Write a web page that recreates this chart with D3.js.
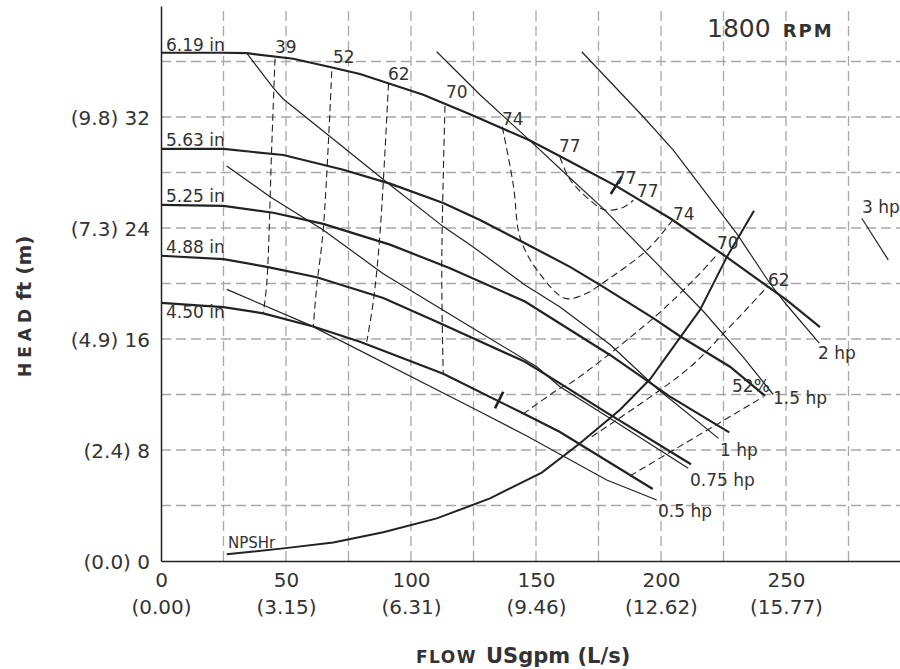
<!DOCTYPE html>
<html>
<head>
<meta charset="utf-8">
<script src="https://cdn.jsdelivr.net/npm/d3@7"></script>
<style>
  body { margin: 0; background: #fff; }
  svg text { font-family: "DejaVu Sans", sans-serif; fill: #333; }
  .axis text { font-size: 20px; }
  .note { font-size: 17px; }
</style>
</head>
<body>
<svg id="chart" width="900" height="669"></svg>
<script>
// axis ticks
const flowTicks = [0, 50, 100, 150, 200, 250];
const flowLps = ["(0.00)", "(3.15)", "(6.31)", "(9.46)", "(12.62)", "(15.77)"];
const headTicks = [0, 8, 16, 24, 32];
const headM = ["(0.0)", "(2.4)", "(4.9)", "(7.3)", "(9.8)"];

// impeller curves [gpm, ft]
const impellerNames = ["6.19 in", "5.63 in", "5.25 in", "4.88 in", "4.50 in"];
const imp619 = [[0,36.63],[25,36.63],[34.3,36.6],[52.9,36.2],[67.6,35.6],[79.6,35.1],[104.9,33.6],[123.6,32.2],[147.6,30.3],[163.6,28.8],[182.3,27.0],[203.6,24.7],[226.3,21.9],[250.3,18.8],[263.6,16.85]];
const imp563 = [[0,29.7],[25,29.7],[48.9,29.26],[72.9,28.2],[91.6,27.2],[112.9,25.8],[127.6,24.58],[145.6,22.9],[163.6,21.2],[175.6,19.9],[196.9,17.5],[207.6,16.2],[227.6,14.0],[241.6,11.9]];
const imp525 = [[0,25.66],[25,25.6],[44.9,25.1],[64.9,24.3],[91.6,22.8],[115.6,21.1],[145.6,18.7],[179.6,14.85],[203.6,11.85],[227.3,9.27]];
const imp488 = [[0,22.0],[25,21.75],[42.3,21.2],[62.3,20.45],[88.9,18.95],[110.3,17.25],[145.6,14.36],[159.6,12.8],[177.3,10.8],[212,6.97]];
const imp450 = [[0,18.6],[25,18.3],[40.9,17.85],[60.9,16.9],[79.6,15.8],[112.9,13.5],[145.6,10.57],[159.6,9.3],[196.7,5.19]];
const impellers = [imp619, imp563, imp525, imp488, imp450];

// NPSHr curve
const npshr = [[26.3,0.48],[48.9,0.91],[68.9,1.34],[88.9,2.07],[110.3,3.07],[131.6,4.51],[152.3,6.37],[167.6,8.48],[183.6,10.9],[195.6,13.1],[207.6,16.1],[215.6,18.1],[226.3,21.9],[237.2,25.25]];

// power lines
const hpNames = ["0.5 hp", "0.75 hp", "1 hp", "1.5 hp", "2 hp", "3 hp"];
const hp05 = [[26.3,19.58],[59.6,17.0],[127.6,10.76],[145.6,9.08],[178.3,5.84],[198.3,4.4]];
const hp075 = [[26.3,28.47],[43.6,26.26],[64.9,23.86],[88.9,20.7],[106.3,18.8],[123.6,16.9],[150.3,14.0],[159.6,12.56],[176.9,10.6],[210.9,6.68]];
const hp1 = [[34.3,36.6],[44.9,34.1],[48.9,33.3],[67.6,30.6],[90.3,27.3],[112.9,24.1],[123.6,22.8],[145.6,19.9],[159.6,18.3],[179.6,15.6],[198.3,12.45],[223,8.84]];
const hp15 = [[110.3,36.7],[127.6,33.6],[147.6,30.3],[163.6,27.6],[176.9,25.4],[196.9,21.7],[216.9,18.0],[232.9,14.7],[244.9,12.0]];
const hp2 = [[168.3,36.7],[193,32.0],[205,29.6],[230.3,23.6],[243.6,20.0],[250.3,18.45],[263.3,15.7]];
const hp3 = [[280.3,24.7],[290.9,21.7]];
const hpLines = [hp05, hp075, hp1, hp15, hp2, hp3];

// efficiency (%) iso lines
const effNames = ["39", "52", "62", "70", "74", "77", "77", "77", "74", "70", "62", "52%"];
const eff39 = [[45.6,36.2],[44.3,29.9],[42.3,20.0],[40.9,17.85]];
const eff52a = [[68.3,35.3],[64.9,23.9],[62.3,19.8],[60.9,16.9]];
const eff62a = [[91,34.4],[87.6,23.6],[85,18.8],[82.3,15.8]];
const eff70a = [[113.6,32.8],[112.3,21.2],[112.9,13.5]];
const eff74 = [[136.5,31.3],[141,27.0],[142.9,23.85],[145,22.65],[150.3,21.0],[161.6,18.93],[170.3,19.3],[175.6,19.9],[194.3,22.4],[204.3,24.5]];
const eff77 = [[159.6,29.1],[163.6,27.5],[172.3,25.9],[177.6,25.3],[185,25.5],[188.9,26.0]];
const eff70b = [[144.9,10.6],[159.6,12.45],[163.6,12.8],[196.9,17.5],[213,20.25],[222.3,22.05]];
const eff62b = [[172.3,8.96],[210.3,13.77],[225,16.4],[242.7,19.8]];
const eff52b = [[187.6,6.13],[241,11.84]];
const effLines = [eff39, eff52a, eff62a, eff70a, eff74, eff77, eff70b, eff62b, eff52b];

// best efficiency point marks
const bepMarks = [[[179.9,26.45],[184.3,27.7]], [[133.6,11.0],[136.9,12.2]]];

// label anchors (gpm, ft)
const impLabelAt = [[2,36.76],[2,29.9],[2,25.87],[2,22.2],[2,17.5]];
const hpLabelAt = [[198.8,3.17],[211.6,5.4],[223.6,7.57],[244.8,11.3],[262.8,14.56],[280.4,25.08]];
const effLabelAt = [[45.6,36.6],[68.8,35.9],[90.8,34.7],[114,33.4],[136.4,31.4],[159.2,29.5],[181.6,27.2],[190.4,26.2],[204.8,24.6],[222.4,22.5],[242.8,19.8],[228.4,12.2]];
const npshLabelAt = [26.8, 0.94];

const svg = d3.select("#chart");
const x = d3.scaleLinear().domain([0, 300]).range([161, 911]);
const y = d3.scaleLinear().domain([0, 40]).range([561, 6]);
const ink = "#222";

svg.append("defs").append("clipPath").attr("id", "plot")
  .append("rect").attr("x", x(0)).attr("y", 0).attr("width", 900 - x(0)).attr("height", y(0));

// grid
const grid = svg.append("g").attr("stroke", "#a8a8a8").attr("stroke-width", 1.3).attr("stroke-dasharray", "10,5");
grid.selectAll(".gx").data(d3.range(25, 300, 25)).join("line")
  .attr("x1", d => x(d)).attr("x2", d => x(d)).attr("y1", y(0)).attr("y2", y(40));
grid.selectAll(".gy").data(d3.range(4, 40, 4)).join("line")
  .attr("x1", x(0)).attr("x2", 900).attr("y1", d => y(d)).attr("y2", d => y(d));

const line = d3.line().x(d => x(d[0])).y(d => y(d[1]));
const smooth = d3.line().x(d => x(d[0])).y(d => y(d[1])).curve(d3.curveCatmullRom.alpha(0.5));
const plot = svg.append("g").attr("clip-path", "url(#plot)").attr("fill", "none");

plot.selectAll(".eff").data(effLines).join("path")
  .attr("d", smooth).attr("stroke", ink).attr("stroke-width", 1.1).attr("stroke-dasharray", "7,4");

plot.selectAll(".hp").data(hpLines).join("path")
  .attr("d", line).attr("stroke", ink).attr("stroke-width", 1.2);

plot.selectAll(".imp").data(impellers).join("path")
  .attr("d", line).attr("stroke", ink).attr("stroke-width", 2.2);

plot.append("path").attr("d", line(npshr)).attr("stroke", ink).attr("stroke-width", 2);

plot.selectAll(".bep").data(bepMarks).join("path")
  .attr("d", line).attr("stroke", ink).attr("stroke-width", 2.6);

// axes
const gx = svg.append("g").attr("class", "axis").attr("transform", `translate(0,${y(0)})`)
  .call(d3.axisBottom(x).tickValues(flowTicks).tickSize(0).tickPadding(0));
gx.selectAll(".tick text").attr("y", 26).attr("dy", 0);
gx.selectAll(".tick").append("text").attr("y", 53).attr("text-anchor", "middle").text((d, i) => flowLps[i]);

const gy = svg.append("g").attr("class", "axis").attr("transform", `translate(${x(0)},0)`)
  .call(d3.axisLeft(y).tickValues(headTicks).tickSize(0).tickPadding(11)
    .tickFormat((d, i) => headM[i] + " " + d));
gy.selectAll(".tick text").attr("dy", "0.36em");
svg.selectAll(".axis .domain").attr("stroke", ink).attr("stroke-width", 1.5);

// labels
const notes = svg.append("g").attr("class", "note");
notes.selectAll(".il").data(impellerNames).join("text")
  .attr("x", (d, i) => x(impLabelAt[i][0])).attr("y", (d, i) => y(impLabelAt[i][1])).text(d => d);
notes.selectAll(".hl").data(hpNames).join("text")
  .attr("x", (d, i) => x(hpLabelAt[i][0])).attr("y", (d, i) => y(hpLabelAt[i][1])).text(d => d);
notes.selectAll(".el").data(effNames).join("text")
  .attr("x", (d, i) => x(effLabelAt[i][0])).attr("y", (d, i) => y(effLabelAt[i][1])).text(d => d);
svg.append("text").attr("x", x(npshLabelAt[0])).attr("y", y(npshLabelAt[1]))
  .style("font-size", "15px").text("NPSHr");

// speed
const sp = svg.append("text").attr("x", 707).attr("y", 37);
sp.append("tspan").style("font-size", "25px").text("1800");
sp.append("tspan").attr("dx", 12).style("font-size", "18px").style("font-weight", "bold")
  .style("letter-spacing", "2px").text("RPM");

// axis titles
const xt = svg.append("text").attr("x", 416).attr("y", 663).style("font-weight", "bold");
xt.append("tspan").style("font-size", "17px").style("letter-spacing", "1.5px").text("FLOW");
xt.append("tspan").attr("dx", 9).style("font-size", "21px").text("USgpm (L/s)");

const yt = svg.append("text").attr("transform", "translate(31,377) rotate(-90)").style("font-weight", "bold");
yt.append("tspan").style("font-size", "17px").style("letter-spacing", "5px").text("HEAD");
yt.append("tspan").attr("dx", 4).style("font-size", "20px").text("ft (m)");
</script>
</body>
</html>
